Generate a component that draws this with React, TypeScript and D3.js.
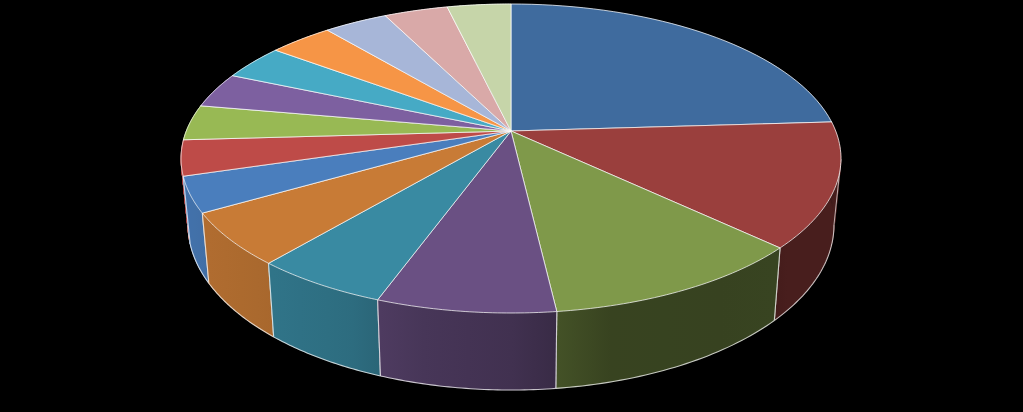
import React from "react";
import * as d3 from "d3";

const categories = ["A","B","C","D","E","F","G","H","I","J","K","L","M","N","O"];
const values = [24.0,13.0,11.1,7.4,5.6,5.5,3.7,3.7,3.7,3.7,3.7,3.7,3.7,3.7,3.7];
const colors = ["#3F6B9E","#9A3F3D","#7F994A","#6A5083","#398AA2","#C87B36","#4A7EBD","#BE4B48","#98B954","#7D60A0","#46AAC5","#F69546","#A7B6D8","#D9A9A8","#C6D5A9"];

const W = 1023, H = 412;
const K = 0.178;
const top = { cx: 511, cy: 131, A: 324.7, B: 149.6 };
const bot = { cx: 511, cy: 195.6, A: 317.8, B: 159.8 };

const project = (ring: typeof top, a: number): [number, number] => {
  const c = Math.cos(a), s = Math.sin(a), d = 1 + K * c;
  return [ring.cx + (ring.A * s) / d, ring.cy - (ring.B * c) / d];
};

const shade = d3.scaleLinear()
  .domain([90,132,134,172,174,199,201,220,240,270])
  .range([0.47,0.47,0.43,0.44,0.58,0.7,0.77,0.84,0.88,0.92])
  .clamp(true);
const tone = (col: string, f: number) => {
  const c = d3.rgb(col);
  return d3.rgb(c.r * f, c.g * f, c.b * f).formatHex();
};

const arcs = d3.pie<number>().sort(null).startAngle(0).endAngle(2 * Math.PI)(values);
const samples = (a0: number, a1: number) => d3.range(0, 41).map((i) => a0 + ((a1 - a0) * i) / 40);
const line = d3.line();
const EDGE = "rgba(255,255,255,0.72)";

// the near part of the lower rim, between the two points where its tangent is vertical
const lowRimFrom = Math.acos(-K);
const lowRimTo = 2 * Math.PI - lowRimFrom;

const stripPath = (pts: number[]) =>
  pts.slice(1).map((a, k) => {
    const p = pts[k];
    return (line([project(top, p), project(top, a), project(bot, a), project(bot, p)] as any) as string) + "Z";
  }).join("");

export default function App() {
  const order = arcs.map((d, i) => ({ d, i })).sort((p, q) => {
    const mid = (x: any) => Math.cos((x.d.startAngle + x.d.endAngle) / 2);
    return mid(q) - mid(p);
  });
  return (
    <svg width={W} height={H} viewBox={`0 0 ${W} ${H}`} style={{ position: "fixed", left: 0, top: 0, background: "#000", display: "block" }}>
      <defs>
        {arcs.map((d, i) => {
          const [x0] = project(bot, d.startAngle);
          const [x1] = project(bot, d.endAngle);
          return (
            <linearGradient key={i} id={`wall${i}`} gradientUnits="userSpaceOnUse" x1={x0} x2={x1 === x0 ? x0 + 1 : x1} y1={0} y2={0}>
              {d3.range(0, 5).map((k) => {
                const a = d.startAngle + ((d.endAngle - d.startAngle) * k) / 4;
                return <stop key={k} offset={k / 4} stopColor={tone(colors[i], shade((a * 180) / Math.PI))} />;
              })}
            </linearGradient>
          );
        })}
      </defs>
      <g>
        {order.map(({ d, i }) => {
          const pts = samples(d.startAngle, d.endAngle);
          const topPts = pts.map((a) => project(top, a));
          const lowA = Math.max(d.startAngle, lowRimFrom);
          const lowB = Math.min(d.endAngle, lowRimTo);
          const lowPts = lowB > lowA ? samples(lowA, lowB).map((a) => project(bot, a)) : [];
          const maxX = pts[d3.greatestIndex(topPts, (p) => p[0])];
          const hasTangent = maxX > d.startAngle && maxX < d.endAngle;
          return (
            <g key={i}>
              <path d={stripPath(pts)} fill={`url(#wall${i})`} stroke={`url(#wall${i})`} strokeWidth={0.6} />
              {lowPts.length > 0 && <path d={line(lowPts as any) as string} fill="none" stroke={EDGE} strokeWidth={1.1} />}
              <path d={line([topPts[0], project(bot, pts[0])] as any) as string} fill="none" stroke={EDGE} strokeWidth={1.1} />
              <path d={line([topPts[40], project(bot, pts[40])] as any) as string} fill="none" stroke={EDGE} strokeWidth={1.1} />
              {hasTangent && (
                <path d={line([project(top, maxX), project(bot, lowRimFrom)] as any) as string} fill="none" stroke={EDGE} strokeWidth={0.9} />
              )}
            </g>
          );
        })}
      </g>
      <g>
        {arcs.map((d, i) => {
          const poly = [[top.cx, top.cy], ...samples(d.startAngle, d.endAngle).map((a) => project(top, a))];
          return (
            <path key={categories[i]} d={(line(poly as any) as string) + "Z"} fill={colors[i]} stroke={EDGE} strokeWidth={1} strokeLinejoin="round" />
          );
        })}
      </g>
    </svg>
  );
}
